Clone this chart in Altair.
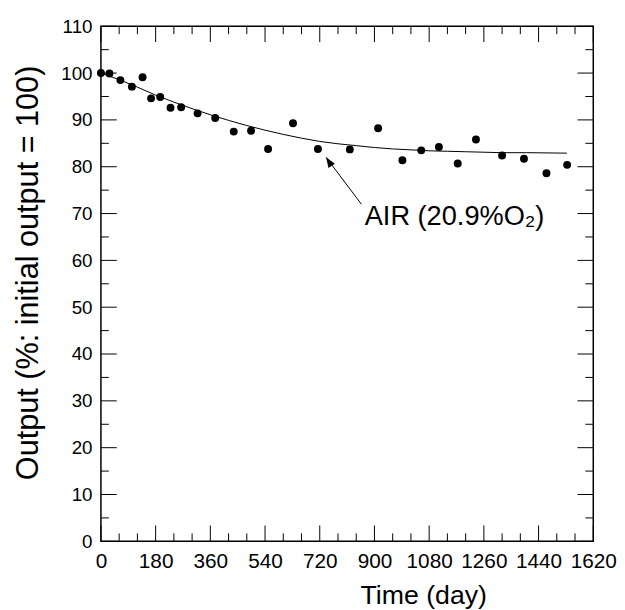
import altair as alt
import pandas as pd

# measured points
days = [0, 28, 64, 102, 137, 165, 195, 229, 264, 318, 376, 437, 494, 550, 632,
        714, 819, 912, 992, 1054, 1112, 1174, 1234, 1320, 1392, 1466, 1534]
output = [100.0, 99.9, 98.5, 97.1, 99.1, 94.6, 94.9, 92.6, 92.7, 91.4, 90.4, 87.5,
          87.7, 83.8, 89.3, 83.8, 83.7, 88.2, 81.4, 83.5, 84.2, 80.7, 85.8, 82.4,
          81.7, 78.6, 80.4]

# fitted curve
fit_days = [0, 60, 120, 180, 240, 300, 360, 420, 480, 540, 600, 660, 720, 780, 840,
            900, 960, 1020, 1080, 1140, 1200, 1260, 1320, 1400, 1533]
fit_output = [100.0, 98.6, 97.0, 95.3, 93.8, 92.4, 91.1, 89.9, 88.8, 87.8, 86.9, 86.1,
              85.4, 84.9, 84.5, 84.1, 83.8, 83.6, 83.4, 83.3, 83.2, 83.1, 83.0, 83.0, 82.9]

# annotation
arrow_days = [857, 741]
arrow_output = [72.0, 82.0]
label_text = ["AIR (20.9%O\u2082)"]
label_day = [868]
label_output = [67.5]

# ticks
x_major = list(range(0, 1621, 180))
x_minor = [v for v in range(60, 1620, 60) if v % 180 != 0]
y_major = list(range(0, 111, 10))
y_minor = list(range(5, 110, 10))

W, H = 498, 521
FONT = "Liberation Sans"

xscale = alt.Scale(domain=[0, 1620], nice=False, zero=False)
yscale = alt.Scale(domain=[0, 110], nice=False, zero=False)
xaxis = alt.Axis(values=x_major, format="d", title="Time (day)", labelFontSize=21,
                 titleFontSize=27, labelPadding=9, titleY=55, titleX=326,
                 titleBaseline="middle", labelFlush=False)
yaxis = alt.Axis(values=y_major, format="d", title="Output (%: initial output = 100)",
                 labelFontSize=19, titleFontSize=31, labelPadding=9, titleX=-73, titleY=249,
                 titleBaseline="middle")

def X(f):
    return alt.X(f, type="quantitative", scale=xscale, axis=xaxis)

def Y(f):
    return alt.Y(f, type="quantitative", scale=yscale, axis=yaxis)

pts = pd.DataFrame({"day": days, "out": output})
fit = pd.DataFrame({"day": fit_days, "out": fit_output})
arr = pd.DataFrame({"day": arrow_days, "out": arrow_output})
tip = pd.DataFrame({"day": arrow_days[1:], "out": arrow_output[1:]})
lab = pd.DataFrame({"day": label_day, "out": label_output, "t": label_text})

line = alt.Chart(fit).mark_line(color="black", strokeWidth=1).encode(x=X("day"), y=Y("out"))
dots = alt.Chart(pts).mark_circle(color="black", opacity=1, size=64).encode(x=X("day"), y=Y("out"))
arrow_line = alt.Chart(arr).mark_line(color="black", strokeWidth=1).encode(x=X("day"), y=Y("out"))
arrow_head = alt.Chart(tip).mark_point(
    shape="M0,0L-0.38,1L0.38,1Z", filled=True, color="black", opacity=1, size=420, angle=327
).encode(x=X("day"), y=Y("out"))
text = alt.Chart(lab).mark_text(
    align="left", baseline="alphabetic", fontSize=27.5, font=FONT, color="black"
).encode(x=X("day"), y=Y("out"), text="t:N")

def xticks(vals, ln):
    df = pd.DataFrame({"t": vals})
    b = alt.Chart(df).mark_rule(color="black", strokeWidth=1).encode(
        x=X("t"), y=alt.value(H), y2=alt.value(H - ln))
    t = alt.Chart(df).mark_rule(color="black", strokeWidth=1).encode(
        x=X("t"), y=alt.value(0), y2=alt.value(ln))
    return [b, t]

def yticks(vals, ln):
    df = pd.DataFrame({"v": vals})
    l = alt.Chart(df).mark_rule(color="black", strokeWidth=1).encode(
        y=Y("v"), x=alt.value(0), x2=alt.value(ln))
    r = alt.Chart(df).mark_rule(color="black", strokeWidth=1).encode(
        y=Y("v"), x=alt.value(W), x2=alt.value(W - ln))
    return [l, r]

layers = [line, dots, arrow_line, arrow_head, text]
layers += xticks(x_major, 16) + xticks(x_minor, 8) + yticks(y_major, 16) + yticks(y_minor, 8)

chart = alt.layer(*layers).properties(
    width=W, height=H,
    autosize=alt.AutoSizeParams(type="none"),
    padding={"left": 94, "top": 15, "right": 24, "bottom": 66},
    background="white",
).configure_view(stroke="black", strokeWidth=1.5).configure_axis(
    domain=False, ticks=False, tickSize=0, grid=False, labelColor="black", titleColor="black",
    labelFont=FONT, titleFont=FONT, titleFontWeight="normal"
)

chart.save("out.html", embed_options={"renderer": "svg", "actions": False})
